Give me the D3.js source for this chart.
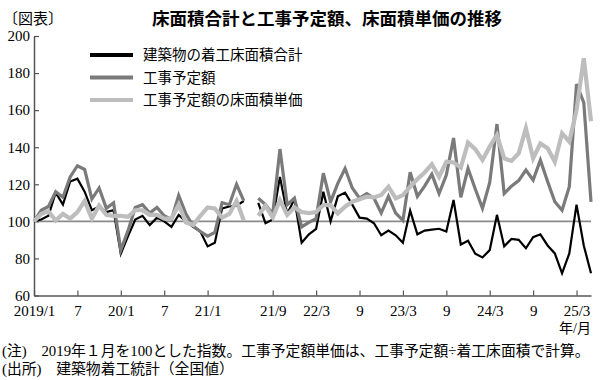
<!DOCTYPE html>
<html>
<head>
<meta charset="utf-8">
<script src="https://cdn.jsdelivr.net/npm/d3@7"></script>
<style>
  body { margin: 0; background: #fff; }
  svg text { font-family: "Liberation Serif", "Noto Sans CJK JP", serif; fill: #000; }
</style>
</head>
<body>
<div id="chart"></div>
<script>

// x is a slot index: 2019/1 = 0 ... 2021/6 = 29, slot 30 blank, 2021/7 = 31 ... 2025/5 = 77
var tickSlots  = [0, 6, 12, 18, 24, 33, 39, 45, 51, 57, 63, 69, 75];
var tickLabels = ["2019/1", "7", "20/1", "7", "21/1", "21/9", "22/3", "9", "23/3", "9", "24/3", "9", "25/3"];
var yTicks = [60, 80, 100, 120, 140, 160, 180, 200];

var seriesNames = ["建築物の着工床面積合計", "工事予定額", "工事予定額の床面積単価"];

var floorArea = [
  100, 101, 103, 115.5, 109, 121.5, 123, 116, 106, 108, 105, 106,
  82.5, 92, 101, 103, 98, 102, 100, 97, 103.5, 100, 97, 94.5,
  86.5, 88.5, 107, 108, 108.5, 111, null,
  110, 99, 101, 124, 104, 112, 88.5, 93, 96, 116, 100, 113.5,
  115.5, 109, 102, 101.5, 99, 92.5, 95, 92.5, 88.5, 105.8, 93, 95,
  95.5, 96, 94.5, 111.5, 87.5, 89.5, 82.5, 80.5, 84.5, 103.5, 86.5, 90.5,
  90, 85.5, 91.5, 93, 87, 82.7, 72, 82.7, 109, 87, 72
];

var plannedCost = [
  100, 106, 108, 116, 113, 124, 130, 128, 112, 118, 107, 110,
  84.5, 95, 107.5, 109, 104.5, 107.5, 103, 101, 114, 104, 97.5, 94.5,
  92, 94, 110, 109, 120, 111, null,
  112.5, 109, 104, 139, 109, 112.5, 97, 99.5, 101.5, 126, 110.5, 120.5,
  128.5, 118, 112.5, 115, 112.5, 104.5, 113.5, 104.5, 100.5, 126.5, 113.5, 119,
  125.5, 115, 125, 145, 113, 128.5, 117.5, 107, 121, 152.5, 115, 119,
  122, 127.7, 122.3, 133, 121.5, 110.6, 106, 118.7, 174, 164, 110.5
];

var unitPrice = [
  100, 104, 105.5, 100.5, 104, 101.5, 105, 111, 101.5, 108.5, 103.5, 103,
  103, 102.5, 106, 106, 103.5, 103.5, 101.5, 101.5, 109, 99.5, 98, 103,
  107.5, 107, 102, 104, 111, 100.5, null,
  103, 108.5, 102, 111.5, 103.5, 107.5, 105, 104.5, 105, 108.8, 108.8, 104.3,
  107.9, 110.6, 111.9, 113.3, 112.9, 114.2, 118.7, 112.4, 114.2, 118.7, 122.8, 126.4,
  130.8, 124.1, 132.2, 131.8, 129, 142.5, 139, 133.1, 140.3, 146.6, 134, 132.6,
  136.7, 150.2, 134, 142, 139.4, 132.2, 147.5, 143, 160, 188, 154
];

var allSeries = [floorArea, plannedCost, unitPrice];
var lineColors = ["#000000", "#7a7a7a", "#bdbdbd"];
var lineWidths = [2.2, 3.2, 4.2];

var width = 600, height = 380;

var svg = d3.select("#chart").append("svg")
    .attr("width", width)
    .attr("height", height);

svg.append("rect").attr("width", width).attr("height", height).attr("fill", "#fff");

var x = d3.scaleLinear().domain([0, 77]).range([34, 591]);
var y = d3.scaleLinear().domain([60, 200]).range([295.5, 36]);

// titles
svg.append("text")
    .attr("x", 3).attr("y", 24)
    .style("font-size", "15px")
    .text("〔図表〕");

svg.append("text")
    .attr("x", 327).attr("y", 25)
    .attr("text-anchor", "middle")
    .style("font-size", "17.5px")
    .style("font-weight", "bold")
    .text("床面積合計と工事予定額、床面積単価の推移");

// axes
var yAxis = d3.axisLeft(y)
    .tickValues(yTicks)
    .tickSizeInner(-5)
    .tickSizeOuter(0)
    .tickPadding(4);

var gy = svg.append("g").attr("transform", "translate(34,0)").call(yAxis);

var xAxis = d3.axisBottom(x)
    .tickValues(tickSlots)
    .tickFormat(function(d, i){ return tickLabels[i]; })
    .tickSizeInner(-5)
    .tickSizeOuter(0)
    .tickPadding(10);

var gx = svg.append("g").attr("transform", "translate(0,295.5)").call(xAxis);

[gx, gy].forEach(function(g){
    g.select(".domain").attr("stroke", "#555").attr("stroke-width", 1.5);
    g.selectAll(".tick line").attr("stroke", "#555").attr("stroke-width", 1.2);
    g.selectAll(".tick text")
        .style("font-size", "15px")
        .style("font-family", "'Liberation Serif', 'Noto Sans CJK JP', serif")
        .attr("fill", "#000");
});

svg.append("text")
    .attr("x", 591).attr("y", 333)
    .attr("text-anchor", "end")
    .style("font-size", "14px")
    .text("年/月");

// 100 reference line
svg.append("line")
    .attr("x1", x(0)).attr("x2", x(77))
    .attr("y1", y(100)).attr("y2", y(100))
    .attr("stroke", "#8a8a8a")
    .attr("stroke-width", 1.6);

// series
var line = d3.line()
    .defined(function(d){ return d != null; })
    .x(function(d, i){ return x(i); })
    .y(function(d){ return y(d); });

allSeries.forEach(function(values, k){
    svg.append("path")
        .datum(values)
        .attr("fill", "none")
        .attr("stroke", lineColors[k])
        .attr("stroke-width", lineWidths[k])
        .attr("stroke-linejoin", "miter")
        .attr("d", line);
});

// legend
var legend = svg.append("g");
seriesNames.forEach(function(name, k){
    var ly = 55 + k * 22.5;
    legend.append("line")
        .attr("x1", 90).attr("x2", 133)
        .attr("y1", ly).attr("y2", ly)
        .attr("stroke", lineColors[k])
        .attr("stroke-width", 4);
    legend.append("text")
        .attr("x", 143).attr("y", ly + 5)
        .style("font-size", "14.5px")
        .text(name);
});

// notes
svg.append("text")
    .attr("x", 2).attr("y", 356)
    .style("font-size", "14.8px")
    .text("(注)　2019年１月を100とした指数。工事予定額単価は、工事予定額÷着工床面積で計算。");

svg.append("text")
    .attr("x", 2).attr("y", 374)
    .style("font-size", "14.8px")
    .text("(出所)　建築物着工統計（全国値）");

</script>
</body>
</html>
